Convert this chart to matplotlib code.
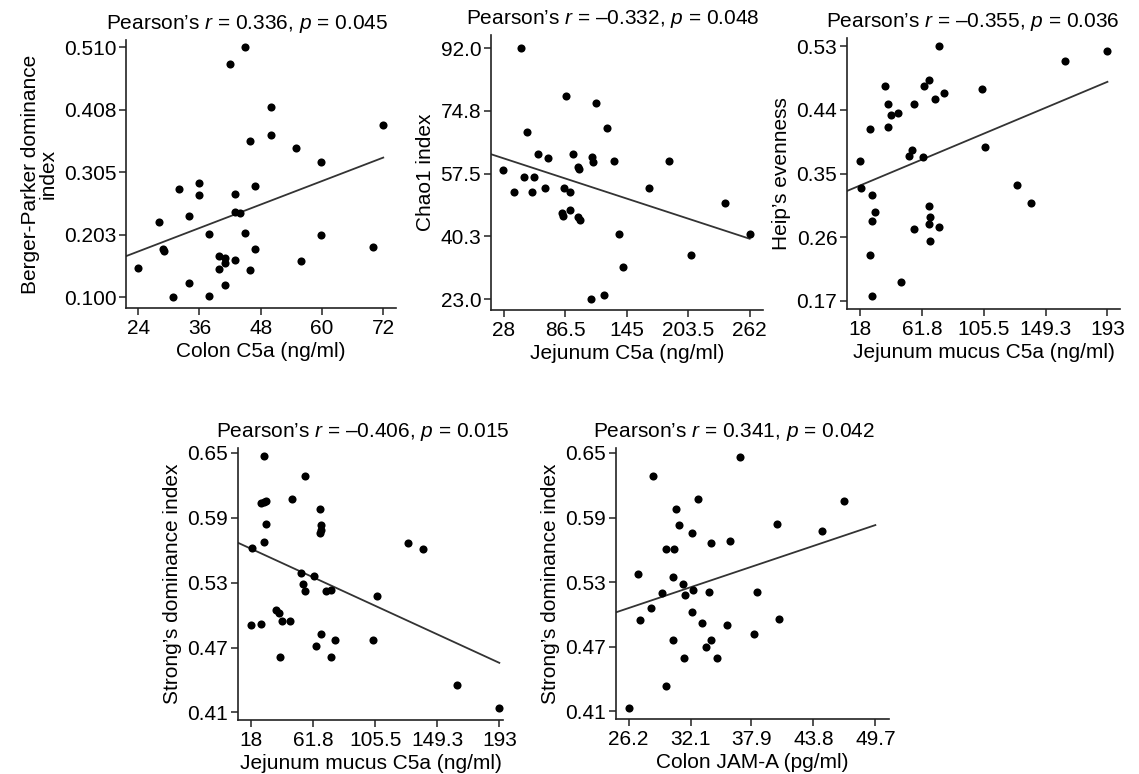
import numpy as np
import matplotlib
matplotlib.use("Agg")
import matplotlib.pyplot as plt

plt.rcParams['font.family'] = ['Liberation Sans', 'DejaVu Sans']
plt.rcParams['mathtext.fontset'] = 'custom'
plt.rcParams['mathtext.rm'] = 'Liberation Sans'
plt.rcParams['mathtext.it'] = 'Liberation Sans:italic'

# Panel 1: Colon C5a vs Berger-Parker dominance ------------------------------------
colon_c5a = [44.9, 42.0, 50.0, 72.0, 50.0, 45.9, 55.0, 59.9, 36.0, 32.0, 36.0, 46.9,
             42.9, 28.0, 33.9, 42.9, 43.9, 37.9, 44.9, 59.9, 28.9, 29.0, 46.9, 69.9,
             39.9, 41.0, 41.0, 42.9, 55.9, 24.0, 39.9, 45.9, 33.9, 41.0, 30.9, 37.9]
berger_parker = [0.510, 0.483, 0.412, 0.382, 0.367, 0.357, 0.345, 0.322, 0.287, 0.277,
                 0.267, 0.282, 0.269, 0.224, 0.233, 0.240, 0.238, 0.204, 0.206, 0.203,
                 0.180, 0.176, 0.179, 0.183, 0.168, 0.164, 0.157, 0.162, 0.159, 0.148,
                 0.146, 0.144, 0.123, 0.121, 0.100, 0.102]

# Panel 2: Jejunum C5a vs Chao1 ---------------------------------------------------
jejunum_c5a = [44.5, 87.6, 115.5, 126.3, 50.5, 60.7, 70.5, 93.7, 99.0, 99.6, 112.0,
               112.6, 132.6, 184.9, 27.4, 47.0, 56.5, 37.5, 54.6, 67.6, 85.7, 90.8,
               166.4, 238.7, 83.8, 84.7, 90.8, 98.4, 100.3, 137.6, 262.0, 206.4,
               141.4, 123.7, 110.8]
chao1 = [92.0, 79.0, 77.1, 70.0, 69.0, 62.9, 61.9, 62.9, 59.5, 58.9, 62.1, 60.8, 60.9,
         60.9, 58.5, 56.5, 56.5, 52.5, 52.5, 53.5, 53.5, 52.5, 53.5, 49.5, 46.7, 46.0,
         47.6, 45.7, 44.8, 41.0, 41.0, 35.1, 31.9, 24.0, 23.0]

# Panel 3: Jejunum mucus C5a vs Heip's evenness -----------------------------------
mucus_c5a_a = [73.4, 193.0, 163.0, 66.6, 63.3, 35.7, 104.1, 77.0, 70.6, 37.6, 55.7,
               39.8, 44.6, 24.6, 37.6, 106.4, 54.8, 52.7, 62.6, 17.5, 18.5, 128.8,
               26.3, 139.0, 66.6, 28.6, 67.3, 26.5, 66.6, 73.4, 55.7, 67.5, 24.6,
               46.5, 26.5]
heip = [0.531, 0.523, 0.510, 0.482, 0.474, 0.474, 0.470, 0.464, 0.455, 0.449, 0.449,
        0.433, 0.436, 0.413, 0.416, 0.388, 0.383, 0.375, 0.374, 0.368, 0.329, 0.334,
        0.320, 0.308, 0.304, 0.296, 0.289, 0.282, 0.278, 0.274, 0.272, 0.254, 0.234,
        0.196, 0.176]

# Panel 4: Jejunum mucus C5a vs Strong's dominance --------------------------------
mucus_c5a_b = [26.7, 55.7, 25.1, 26.7, 28.1, 47.0, 66.7, 28.6, 67.4, 67.4, 66.7, 26.7,
               128.7, 139.3, 18.7, 52.9, 62.5, 54.5, 55.7, 71.0, 74.1, 107.0, 35.7,
               37.5, 39.7, 45.1, 18.0, 25.1, 67.2, 76.9, 104.0, 63.9, 38.0, 74.1,
               162.8, 193.0]
strong_a = [0.647, 0.629, 0.604, 0.605, 0.606, 0.607, 0.598, 0.584, 0.583, 0.579, 0.576,
            0.568, 0.567, 0.561, 0.562, 0.539, 0.536, 0.529, 0.522, 0.522, 0.523, 0.518,
            0.505, 0.502, 0.495, 0.495, 0.491, 0.492, 0.483, 0.477, 0.477, 0.471, 0.461,
            0.461, 0.435, 0.414]

# Panel 5: Colon JAM-A vs Strong's dominance --------------------------------------
colon_jama = [36.8, 28.5, 32.8, 46.7, 30.7, 31.0, 40.3, 32.2, 44.6, 34.0, 35.9, 29.8,
              30.5, 27.1, 30.4, 31.4, 31.6, 32.3, 29.4, 33.9, 38.4, 28.3, 27.3, 32.2,
              33.2, 35.6, 40.5, 38.1, 30.4, 34.0, 33.6, 31.5, 34.6, 29.8, 26.2]
strong_b = [0.646, 0.629, 0.607, 0.605, 0.598, 0.583, 0.584, 0.576, 0.578, 0.566, 0.568,
            0.561, 0.561, 0.538, 0.535, 0.528, 0.518, 0.523, 0.520, 0.521, 0.521, 0.506,
            0.495, 0.502, 0.492, 0.490, 0.496, 0.482, 0.476, 0.476, 0.470, 0.460, 0.460,
            0.434, 0.413]

panels = [
    dict(x=colon_c5a, y=berger_parker, rect=(126, 396, 40, 308),
         xlim=(21.6, 74.5), ylim=(0.0825, 0.522),
         xticks=[24, 36, 48, 60, 72], xtl=["24", "36", "48", "60", "72"],
         yticks=[0.100, 0.203, 0.305, 0.408, 0.510],
         ytl=["0.100", "0.203", "0.305", "0.408", "0.510"],
         xlabel="Colon C5a (ng/ml)", ylabel="Berger-Parker dominance\nindex",
         title="Pearson\u2019s $r$ = 0.336, $p$ = 0.045", tx=247),
    dict(x=jejunum_c5a, y=chao1, rect=(491, 763, 35, 310),
         xlim=(16, 274.7), ylim=(20.0, 95.7),
         xticks=[28, 86.5, 145, 203.5, 262], xtl=["28", "86.5", "145", "203.5", "262"],
         yticks=[23.0, 40.3, 57.5, 74.8, 92.0],
         ytl=["23.0", "40.3", "57.5", "74.8", "92.0"],
         xlabel="Jejunum C5a (ng/ml)", ylabel="Chao1 index",
         title="Pearson\u2019s $r$ = \u20130.332, $p$ = 0.048", tx=613),
    dict(x=mucus_c5a_a, y=heip, rect=(847, 1120, 38, 309),
         xlim=(8.6, 201.9), ylim=(0.158, 0.542),
         xticks=[18, 61.8, 105.5, 149.3, 193],
         xtl=["18", "61.8", "105.5", "149.3", "193"],
         yticks=[0.17, 0.26, 0.35, 0.44, 0.53],
         ytl=["0.17", "0.26", "0.35", "0.44", "0.53"],
         xlabel="Jejunum mucus C5a (ng/ml)", ylabel="Heip\u2019s evenness",
         title="Pearson\u2019s $r$ = \u20130.355, $p$ = 0.036", tx=973),
    dict(x=mucus_c5a_b, y=strong_a, rect=(238, 503, 448, 720),
         xlim=(8.6, 195.6), ylim=(0.403, 0.6546),
         xticks=[18, 61.8, 105.5, 149.3, 193],
         xtl=["18", "61.8", "105.5", "149.3", "193"],
         yticks=[0.41, 0.47, 0.53, 0.59, 0.65],
         ytl=["0.41", "0.47", "0.53", "0.59", "0.65"],
         xlabel="Jejunum mucus C5a (ng/ml)", ylabel="Strong\u2019s dominance index",
         title="Pearson\u2019s $r$ = \u20130.406, $p$ = 0.015", tx=363),
    dict(x=colon_jama, y=strong_b, rect=(616, 889, 448, 719),
         xlim=(25.0, 51.0), ylim=(0.403, 0.6546),
         xticks=[26.2, 32.1, 37.9, 43.8, 49.7],
         xtl=["26.2", "32.1", "37.9", "43.8", "49.7"],
         yticks=[0.41, 0.47, 0.53, 0.59, 0.65],
         ytl=["0.41", "0.47", "0.53", "0.59", "0.65"],
         xlabel="Colon JAM-A (pg/ml)", ylabel="Strong\u2019s dominance index",
         title="Pearson\u2019s $r$ = 0.341, $p$ = 0.042", tx=734),
]

W, H = 1139, 774
fig = plt.figure(figsize=(W / 100, H / 100), dpi=100)
fs = 15

for p in panels:
    l, r, t, b = p['rect']
    ax = fig.add_axes([l / W, 1 - b / H, (r - l) / W, (b - t) / H])
    x = np.array(p['x'])
    y = np.array(p['y'])
    ax.scatter(x, y, s=34, color='black', zorder=3, linewidths=0)

    # least squares line, from the left spine to the last tick
    k, c = np.polyfit(x, y, 1)
    xs = np.array([p['xlim'][0], p['xticks'][-1]])
    ax.plot(xs, k * xs + c, color='#333333', lw=1.3, zorder=2)

    ax.set_xlim(p['xlim'])
    ax.set_ylim(p['ylim'])
    ax.set_xticks(p['xticks'])
    ax.set_xticklabels(p['xtl'])
    ax.set_yticks(p['yticks'])
    ax.set_yticklabels(p['ytl'])
    for s in ['top', 'right']:
        ax.spines[s].set_visible(False)
    for s in ['left', 'bottom']:
        ax.spines[s].set_linewidth(1.2)
        ax.spines[s].set_color('#222222')
    ax.tick_params(direction='out', length=5, width=1.1, labelsize=fs, pad=2,
                   color='#222222')
    ax.tick_params(axis='x', pad=3)
    ax.set_xlabel(p['xlabel'], fontsize=fs, labelpad=3)
    ax.set_ylabel(p['ylabel'], fontsize=fs, labelpad=4, linespacing=0.95)
    ax.text((p['tx'] - l) / (r - l), 1 + 11 / (b - t), p['title'],
            transform=ax.transAxes, ha='center', va='baseline', fontsize=fs)

fig.savefig("out.png", dpi=100)
